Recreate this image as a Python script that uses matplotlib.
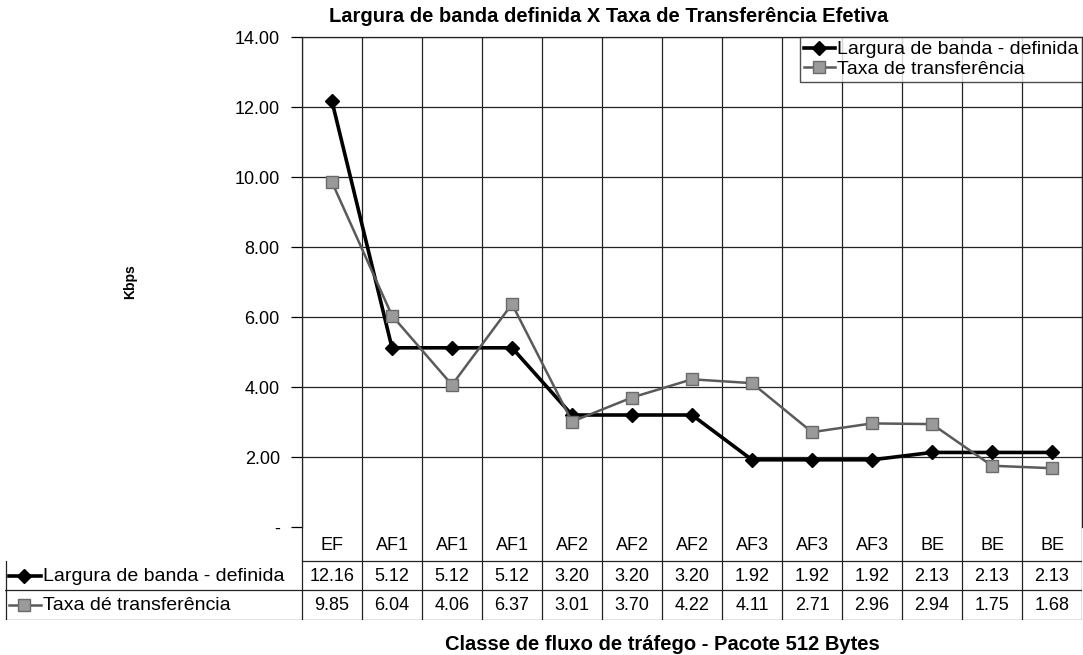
import matplotlib.pyplot as plt
from matplotlib.lines import Line2D
import matplotlib.transforms as mtransforms

plt.rcParams['font.family'] = ['Liberation Sans', 'DejaVu Sans']

W, H = 1083, 655

classes = ["EF", "AF1", "AF1", "AF1", "AF2", "AF2", "AF2", "AF3", "AF3", "AF3", "BE", "BE", "BE"]
largura = [12.16, 5.12, 5.12, 5.12, 3.20, 3.20, 3.20, 1.92, 1.92, 1.92, 2.13, 2.13, 2.13]
taxa = [9.85, 6.04, 4.06, 6.37, 3.01, 3.70, 4.22, 4.11, 2.71, 2.96, 2.94, 1.75, 1.68]
yticks = [0, 2, 4, 6, 8, 10, 12, 14]
name1 = "Largura de banda - definida"
name2 = "Taxa de transferência"
name2_table = "Taxa dé transferência"

style1 = dict(color='black', lw=2.6, marker='D', ms=7, mfc='black', mec='black')
style2 = dict(color='#5a5a5a', lw=1.8, marker='s', ms=8, mfc='#9a9a9a', mec='#6a6a6a')

fig = plt.figure(figsize=(W / 100, H / 100), dpi=100)

# main plot area
px_left, px_right, px_top, px_bot = 302, 1082, 37, 527
ax = fig.add_axes([px_left / W, 1 - px_bot / H, (px_right - px_left) / W, (px_bot - px_top) / H])
x = list(range(len(classes)))
ax.plot(x, largura, **style1, label=name1)
ax.plot(x, taxa, **style2, label=name2)
ax.set_xlim(-0.5, len(classes) - 0.5)
ax.set_ylim(0, 14)
ax.set_yticks(yticks)
ax.set_yticklabels(["-" if v == 0 else f"{v:.2f}" for v in yticks], fontsize=13)
ax.tick_params(axis='y', length=8, width=0.9, pad=8)
ax.set_xticks([])
for v in yticks[1:]:
    ax.axhline(v, color='#222222', lw=0.9, zorder=0)
for i in range(len(classes) + 1):
    ax.axvline(i - 0.5, color='#222222', lw=0.9, zorder=0)
for s in ax.spines.values():
    s.set_color('#222222')
    s.set_linewidth(0.9)
ax.spines['bottom'].set_visible(False)

fig.text(130 / W, 1 - 282 / H, "Kbps", rotation=90, ha='center', va='center',
         fontsize=10, fontweight='bold')
fig.text(609 / W, 1 - 16 / H, "Largura de banda definida X Taxa de Transferência Efetiva",
         ha='center', va='center', fontsize=14.5, fontweight='bold')

leg = ax.legend(loc='upper right', bbox_to_anchor=(1.0, 1.0), fontsize=14, frameon=True,
                fancybox=False, edgecolor='#222222', handlelength=1.6, handletextpad=0.1,
                borderpad=0.2, labelspacing=0.1, borderaxespad=0.0)
leg.get_frame().set_linewidth(1.0)

# data table under the plot
t_left, t_top, t_bot = 5, 527, 620
tax = fig.add_axes([t_left / W, 1 - t_bot / H, (px_right - t_left) / W, (t_bot - t_top) / H])
unit = (px_right - px_left) / len(classes)
tax.set_xlim(-0.5 - (px_left - t_left) / unit, len(classes) - 0.5)
rows = [0, 34, 63, 93]
tax.set_ylim(rows[-1], 0)
tax.axis('off')
lc = '#222222'
for i in range(len(classes) + 1):
    tax.plot([i - 0.5, i - 0.5], [rows[0], rows[-1]], color=lc, lw=0.9)
xl = tax.get_xlim()[0]
tax.plot([-0.5, len(classes) - 0.5], [rows[1], rows[1]], color=lc, lw=0.9)
tax.plot([xl, len(classes) - 0.5], [rows[2], rows[2]], color=lc, lw=0.9)
tax.plot([xl, len(classes) - 0.5], [rows[3] - 0.5, rows[3] - 0.5], color=lc, lw=0.9)
tax.plot([xl + 0.01, xl + 0.01], [rows[1], rows[3]], color=lc, lw=0.9)
for i, c in enumerate(classes):
    tax.text(i, (rows[0] + rows[1]) / 2 + 1, c, ha='center', va='center', fontsize=13)
    tax.text(i, (rows[1] + rows[2]) / 2 + 1, f"{largura[i]:.2f}", ha='center', va='center', fontsize=13)
    tax.text(i, (rows[2] + rows[3]) / 2 + 1, f"{taxa[i]:.2f}", ha='center', va='center', fontsize=13)

blend = mtransforms.blended_transform_factory(tax.transAxes, tax.transData)
for (r0, r1), st, nm in [((rows[1], rows[2]), style1, name1), ((rows[2], rows[3]), style2, name2_table)]:
    yc = (r0 + r1) / 2
    tax.add_line(Line2D([0.004, 0.018, 0.033], [yc, yc, yc], transform=blend,
                        **{**st, 'markevery': [1]}))
    tax.text(0.035, yc + 1, nm, transform=blend, ha='left', va='center', fontsize=14)

fig.text(662 / W, 1 - 645 / H, "Classe de fluxo de tráfego - Pacote 512 Bytes",
         ha='center', va='center', fontsize=14.5, fontweight='bold')

fig.savefig("out.png", dpi=100)
